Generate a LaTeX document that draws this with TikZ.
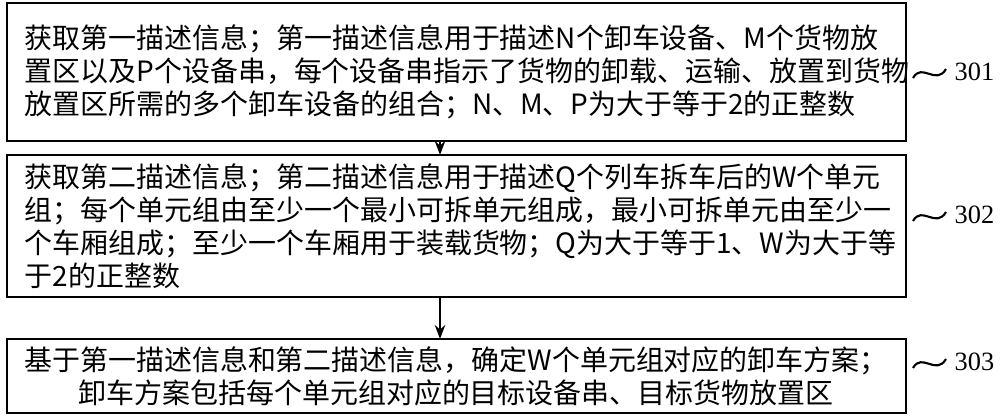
\documentclass[tikz,border=0pt]{standalone}
\usepackage{fontspec}
\usetikzlibrary{arrows.meta}
\setmainfont{Liberation Serif}
\newfontfamily\cjk{Noto Sans CJK SC}
\begin{document}
\begin{tikzpicture}[x=0.01cm,y=-0.01cm,
  txt/.style={font=\cjk\fontsize{7.95pt}{9.4pt}\selectfont,inner sep=0pt},
  lab/.style={font=\fontsize{7.5pt}{8pt}\selectfont,inner sep=0pt,anchor=west},
  arr/.style={-{Stealth[length=4pt,width=3pt]},line width=0.5pt}]
\useasboundingbox (0,0) rectangle (1000,419);
\draw[line width=0.7pt] (7,3) rectangle (906,141);
\draw[line width=0.7pt] (7,155) rectangle (906,297);
\draw[line width=0.7pt] (7,339) rectangle (906,413);
\coordinate (b1) at (440,141); \coordinate (t2) at (440,155);
\coordinate (b2) at (440,297); \coordinate (t3) at (440,339);
\node[txt,align=left,anchor=west] (x1) at (24,72) {获取第一描述信息；第一描述信息用于描述N个卸车设备、M个货物放\\置区以及P个设备串，每个设备串指示了货物的卸载、运输、放置到货物\\放置区所需的多个卸车设备的组合；N、M、P为大于等于2的正整数};
\node[txt,align=left,anchor=west] (x2) at (24,226) {获取第二描述信息；第二描述信息用于描述Q个列车拆车后的W个单元\\组；每个单元组由至少一个最小可拆单元组成，最小可拆单元由至少一\\个车厢组成；至少一个车厢用于装载货物；Q为大于等于1、W为大于等\\于2的正整数};
\node[txt,align=center] (x3) at (456,376) {基于第一描述信息和第二描述信息，确定W个单元组对应的卸车方案；\\卸车方案包括每个单元组对应的目标设备串、目标货物放置区};
\draw[arr] (b1) -- (t2);
\draw[arr] (b2) -- (t3);
\foreach \y/\l in {72/301,215/302,362/303}{
  \draw[line width=0.6pt] (913,\y+6) .. controls (922,\y-10) and (936,\y+14) .. (946,\y-3);
  \node[lab] at (954,\y) {\l};
}
\end{tikzpicture}
\end{document}
